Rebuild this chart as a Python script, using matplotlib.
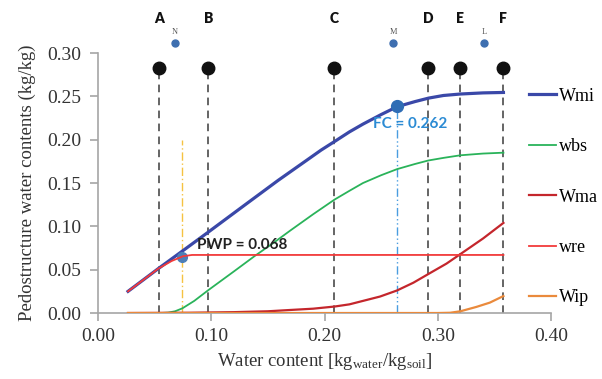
import matplotlib
matplotlib.use("Agg")
import matplotlib.pyplot as plt

plt.rcParams['font.family'] = ['Liberation Serif', 'DejaVu Serif']
plt.rcParams['mathtext.fontset'] = 'custom'
plt.rcParams['mathtext.rm'] = 'Liberation Serif'
plt.rcParams['mathtext.it'] = 'Liberation Serif:italic'

# water content samples and pedostructure curves
x_wmi = [0.0265, 0.053, 0.074, 0.097, 0.13, 0.159, 0.184, 0.197, 0.209, 0.222, 0.234,
         0.25, 0.264, 0.28, 0.292, 0.305, 0.32, 0.34, 0.358]
wmi = [0.025, 0.051, 0.071, 0.093, 0.125, 0.153, 0.176, 0.188, 0.198, 0.209, 0.218,
       0.229, 0.238, 0.244, 0.248, 0.251, 0.2527, 0.254, 0.2545]

x_wbs = [0.0265, 0.055, 0.062, 0.068, 0.0745, 0.085, 0.0975, 0.12, 0.1386, 0.155,
         0.1696, 0.19, 0.209, 0.222, 0.234, 0.25, 0.264, 0.28, 0.2917, 0.305,
         0.32, 0.34, 0.358]
wbs = [0.0, 0.0, 0.0005, 0.002, 0.0054, 0.014, 0.0265, 0.048, 0.066, 0.081,
       0.095, 0.114, 0.131, 0.141, 0.150, 0.159, 0.166, 0.172, 0.176, 0.179,
       0.182, 0.184, 0.185]

x_wma = [0.0265, 0.08, 0.12, 0.15, 0.1696, 0.19, 0.209, 0.222, 0.234, 0.249, 0.264,
         0.2785, 0.2917, 0.3077, 0.32, 0.34, 0.358]
wma = [0.0, 0.0003, 0.001, 0.002, 0.0035, 0.005, 0.0075, 0.010, 0.014, 0.019, 0.026,
       0.035, 0.045, 0.057, 0.068, 0.086, 0.104]

x_wre = [0.0265, 0.053, 0.065, 0.075, 0.083, 0.09, 0.358]
wre = [0.025, 0.051, 0.060, 0.0655, 0.067, 0.067, 0.067]

x_wip = [0.0265, 0.30, 0.311, 0.32, 0.334, 0.346, 0.358]
wip = [0.0, 0.0, 0.0003, 0.002, 0.007, 0.012, 0.0196]

# characteristic points A..F
pt_labels = ['A', 'B', 'C', 'D', 'E', 'F']
pt_x = [0.054, 0.0975, 0.2087, 0.2917, 0.3196, 0.3579]
pt_y = 0.2823
letter_y = 0.340

small_labels = ['N', 'M', 'L']
small_x = [0.068, 0.2607, 0.3408]
small_y = 0.311

pwp_x, pwp_y = 0.0745, 0.065
fc_x, fc_y = 0.2637, 0.239
yellow_top = 0.20

fig = plt.figure(figsize=(6.02, 3.79), dpi=100)
ax = fig.add_axes([0.1628, 0.1741, 0.7525, 0.6860])

# dashed lines for A..F
for x in pt_x:
    ax.plot([x, x], [0, pt_y], color='#3a3a3a', lw=1.1, ls=(0, (5, 3.5)), zorder=1)
ax.plot(pt_x, [pt_y] * len(pt_x), 'o', color='#111111', ms=9, ls='none',
        clip_on=False, zorder=5)
for lab, x in zip(pt_labels, pt_x):
    ax.text(x, letter_y, lab, ha='center', va='center', family='Lato',
            fontweight='heavy', fontsize=10, color='#111111')

ax.plot(small_x, [small_y] * 3, 'o', color='#3e6fb0', ms=5, ls='none',
        clip_on=False, zorder=5)
for lab, x in zip(small_labels, small_x):
    ax.text(x, small_y + 0.013, lab, ha='center', va='center',
            fontsize=6, color='#555555')

ax.plot([pwp_x, pwp_x], [0, yellow_top], color='#f5c242', lw=1.0,
        ls=(0, (6, 2, 1, 2)), zorder=1)
ax.plot([fc_x, fc_x], [0, fc_y], color='#4a9de0', lw=1.0,
        ls=(0, (6, 2, 1, 2, 1, 2)), zorder=1)

l_wmi, = ax.plot(x_wmi, wmi, color='#3a48a8', lw=2.3, label='Wmi', zorder=3)
l_wbs, = ax.plot(x_wbs, wbs, color='#2ab35a', lw=1.3, label='wbs', zorder=3)
l_wma, = ax.plot(x_wma, wma, color='#c4262c', lw=1.6, label='Wma', zorder=4)
ax.plot(pwp_x, pwp_y, 'o', color='#4d7fb8', ms=7, zorder=3.5)
l_wre, = ax.plot(x_wre, wre, color='#f23a3a', lw=1.3, label='wre', zorder=4)
l_wip, = ax.plot(x_wip, wip, color='#ea8a3c', lw=1.6, label='Wip', zorder=4)
ax.plot(fc_x, fc_y, 'o', color='#2f6db5', ms=8.5, zorder=6)

ax.text(0.087, 0.078, 'PWP = 0.068', family='Lato', fontweight='bold',
        fontsize=11, color='#222222', va='center', ha='left')
ax.text(0.2755, 0.218, 'FC = 0.262', family='Lato', fontweight='bold',
        fontsize=11, color='#2b8bd4', va='center', ha='center')

ax.set_xlim(0, 0.40)
ax.set_ylim(0, 0.30)
ax.set_xticks([0.0, 0.1, 0.2, 0.3, 0.4])
ax.set_xticklabels(['0.00', '0.10', '0.20', '0.30', '0.40'])
ax.set_yticks([0.0, 0.05, 0.10, 0.15, 0.20, 0.25, 0.30])
ax.set_yticklabels(['0.00', '0.05', '0.10', '0.15', '0.20', '0.25', '0.30'])

for s in ['top', 'right']:
    ax.spines[s].set_visible(False)
for s in ['left', 'bottom']:
    ax.spines[s].set_color('#a6a6a6')
    ax.spines[s].set_linewidth(1.2)
ax.tick_params(colors='#a6a6a6', length=6, width=1.2, pad=6,
               labelsize=14, labelcolor='#333333')
ax.tick_params(axis='x', pad=5)

ax.set_xlabel(r'Water content [kg$_{\mathrm{water}}$/kg$_{\mathrm{soil}}$]',
              fontsize=13.5, color='#333333', labelpad=4)
ax.set_ylabel('Pedostructure water contents (kg/kg)', fontsize=13.5,
              color='#333333', labelpad=8)

fig.legend(handles=[l_wmi, l_wbs, l_wma, l_wre, l_wip], loc='center left',
           bbox_to_anchor=(0.878, 0.48), frameon=False, fontsize=13,
           labelspacing=1.85, handlelength=1.5, handletextpad=0.2,
           borderpad=0, borderaxespad=0)

fig.savefig('out.png', dpi=100)
